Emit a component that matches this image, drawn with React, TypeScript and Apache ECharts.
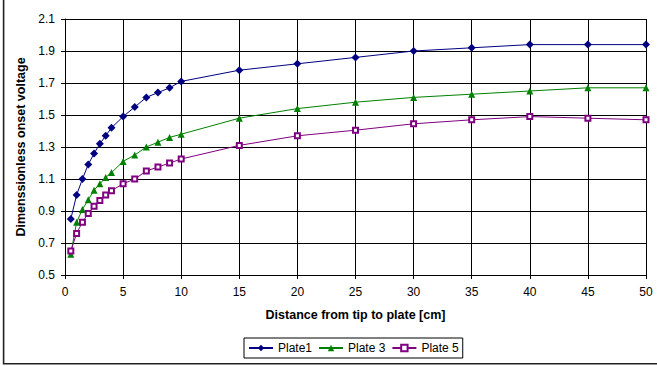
import React, { useEffect, useRef } from "react";
import * as echarts from "echarts";

const distances = [0.5, 1, 1.5, 2, 2.5, 3, 3.5, 4, 5, 6, 7, 8, 9, 10, 15, 20, 25, 30, 35, 40, 45, 50];
const plate1 = [0.85, 1.0, 1.1, 1.19, 1.26, 1.32, 1.37, 1.42, 1.49, 1.55, 1.61, 1.64, 1.67, 1.71, 1.78, 1.82, 1.86, 1.9, 1.92, 1.94, 1.94, 1.94];
const plate3 = [0.63, 0.83, 0.91, 0.97, 1.03, 1.07, 1.11, 1.14, 1.21, 1.25, 1.3, 1.33, 1.36, 1.38, 1.48, 1.54, 1.58, 1.61, 1.63, 1.65, 1.67, 1.67];
const plate5 = [0.65, 0.76, 0.83, 0.885, 0.93, 0.965, 1.0, 1.027, 1.07, 1.1, 1.15, 1.175, 1.2, 1.225, 1.31, 1.37, 1.405, 1.445, 1.47, 1.49, 1.48, 1.47];
const seriesNames = ["Plate1", "Plate 3", "Plate 5"];
const xTitle = "Distance from tip to plate [cm]";
const yTitle = "Dimenssionless onset voltage";

const FONT = "'Liberation Sans', Arial, sans-serif";

export default function App() {
  const ref = useRef<HTMLDivElement>(null);
  useEffect(() => {
    if (!ref.current) return;
    const chart = echarts.init(ref.current, null, { renderer: "svg" });
    const pts = (ys: number[]) => distances.map((d, i) => [d, ys[i]]);
    chart.setOption({
      animation: false,
      textStyle: { fontFamily: FONT, color: "#000" },
      graphic: [
        {
          type: "rect",
          shape: { x: 3.6, y: -10, width: 700, height: 373.8 },
          style: { fill: "none", stroke: "#222", lineWidth: 1.6 },
          silent: true,
          z: 0,
        },
      ],
      grid: { left: 65, right: 11, top: 19, bottom: 91, containLabel: false },
      legend: {
        left: 244,
        top: 338,
        orient: "horizontal",
        padding: [4, 4, 4, 4],
        itemGap: 6,
        itemWidth: 24,
        itemHeight: 8,
        borderColor: "#000",
        borderWidth: 1,
        textStyle: { fontFamily: FONT, fontSize: 12, color: "#000" },
        data: seriesNames,
      },
      xAxis: {
        type: "value",
        min: 0,
        max: 50,
        interval: 5,
        name: xTitle,
        nameLocation: "middle",
        nameGap: 33,
        nameTextStyle: { fontFamily: FONT, fontSize: 12.5, fontWeight: "bold", color: "#000" },
        axisLine: { show: true, lineStyle: { color: "#000", width: 1 } },
        axisTick: { show: true, length: 4, lineStyle: { color: "#000" } },
        axisLabel: { fontFamily: FONT, fontSize: 12, color: "#000", margin: 11 },
        splitLine: { show: true, lineStyle: { color: "#000", width: 1 } },
      },
      yAxis: {
        type: "value",
        min: 0.5,
        max: 2.1,
        interval: 0.2,
        name: yTitle,
        nameLocation: "middle",
        nameGap: 31,
        nameTextStyle: { fontFamily: FONT, fontSize: 12.5, fontWeight: "bold", color: "#000" },
        axisLine: { show: true, lineStyle: { color: "#000", width: 1 } },
        axisTick: { show: true, length: 4, lineStyle: { color: "#000" } },
        axisLabel: {
          fontFamily: FONT,
          fontSize: 12,
          color: "#000",
          margin: 10,
          formatter: (v: number) => v.toFixed(1),
        },
        splitLine: { show: true, lineStyle: { color: "#000", width: 1 } },
      },
      series: [
        {
          name: seriesNames[0],
          type: "line",
          data: pts(plate1),
          symbol: "diamond",
          symbolSize: 8,
          itemStyle: { color: "#000080" },
          lineStyle: { color: "#000080", width: 1 },
        },
        {
          name: seriesNames[1],
          type: "line",
          data: pts(plate3),
          symbol: "triangle",
          symbolSize: 7,
          itemStyle: { color: "#008000" },
          lineStyle: { color: "#008000", width: 1 },
        },
        {
          name: seriesNames[2],
          type: "line",
          data: pts(plate5),
          symbol: "emptyRect",
          symbolSize: 5,
          itemStyle: { color: "#800080", borderWidth: 1 },
          lineStyle: { color: "#800080", width: 1 },
        },
      ],
    });
    return () => chart.dispose();
  }, []);
  return (
    <div
      ref={ref}
      style={{ position: "fixed", left: 0, top: 0, width: 657, height: 366, background: "#fff" }}
    />
  );
}
